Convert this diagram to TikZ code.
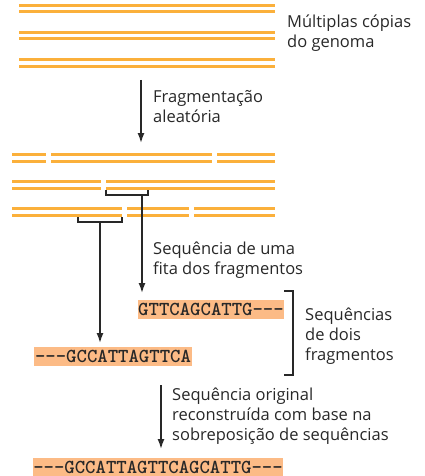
\documentclass[tikz,border=0pt]{standalone}
\usepackage{fontspec}
\setmainfont{Open Sans}
\usetikzlibrary{arrows.meta}
\definecolor{dna}{RGB}{251,176,59}
\definecolor{seqfill}{RGB}{252,187,134}
\definecolor{ink}{RGB}{40,40,40}
\tikzset{
  strand/.style={draw=dna, line width=3pt},
  lbl/.style={anchor=base west, align=left, inner sep=0pt, text=ink,
    font=\fontsize{16.5}{20}\selectfont},
  seqbox/.style={fill=seqfill, inner sep=0pt, text=ink,
    font=\ttfamily\bfseries\fontsize{19.8}{19}\selectfont, minimum height=19pt},
  brk/.style={draw=ink, line width=1.1pt},
  arr/.style={draw=ink, line width=1.5pt, -{Latex[length=10pt,width=7pt]}},
}
\begin{document}
\begin{tikzpicture}[x=1pt,y=-1pt]
\useasboundingbox (0,0) rectangle (424,476);
% intact genome copies
\foreach \y in {5.5,32.5,60}{
  \draw[strand] (19,\y) -- (275,\y);
  \draw[strand] (19,\y+6.3) -- (275,\y+6.3);
}
% fragmented copies
\foreach \a/\b in {12/46,51/212,217/275}{
  \draw[strand] (\a,154.5) -- (\b,154.5);
  \draw[strand] (\a,161) -- (\b,161);
}
\foreach \a/\b in {12/101,106/275}{
  \draw[strand] (\a,181.5) -- (\b,181.5);
  \draw[strand] (\a,188) -- (\b,188);
}
\foreach \a/\b in {12/122,127/189,194/275}{
  \draw[strand] (\a,208.5) -- (\b,208.5);
  \draw[strand] (\a,215) -- (\b,215);
}
% labels (anchor = baseline of last line)
\node[lbl] (copies) at (287,48) {Múltiplas cópias\\do genoma};
\node[lbl] (frag) at (153,122) {Fragmentação\\aleatória};
\node[lbl] (fita) at (153,274) {Sequência de uma\\fita dos fragmentos};
\node[lbl] (dois) at (305,360) {Sequências\\de dois\\fragmentos};
\node[lbl] (orig) at (172,440) {Sequência original\\reconstruída com base na\\sobreposição de sequências};
% sequence boxes
\node[seqbox, minimum width=146pt] (s1) at (211,309.5) {GTTCAGCATTG---};
\node[seqbox, minimum width=158pt] (s2) at (113,356.5) {---GCCATTAGTTCA};
\node[seqbox, minimum width=250pt] (s3) at (158,467) {---GCCATTAGTTCAGCATTG---};
% arrow 1
\coordinate (a1s) at (141,80);
\coordinate (a1e) at (141,143);
\draw[arr] (a1s) -- (a1e);
% brackets under fragments
\draw[brk] (106,190) -- (106,195) -- (148,195) -- (148,190);
\coordinate (b1) at (142,195);
\coordinate (b1e) at (142,293);
\draw[arr] (b1) -- (b1e);
\draw[brk] (78,217) -- (78,222) -- (122,222) -- (122,217);
\coordinate (b2) at (100,222);
\coordinate (b2e) at (100,343);
\draw[arr] (b2) -- (b2e);
% right bracket
\draw[brk] (284,291) -- (293,291) -- (293,375) -- (284,375);
% final arrow
\coordinate (a3s) at (161,385);
\coordinate (a3e) at (161,449);
\draw[arr] (a3s) -- (a3e);
\end{tikzpicture}
\end{document}
